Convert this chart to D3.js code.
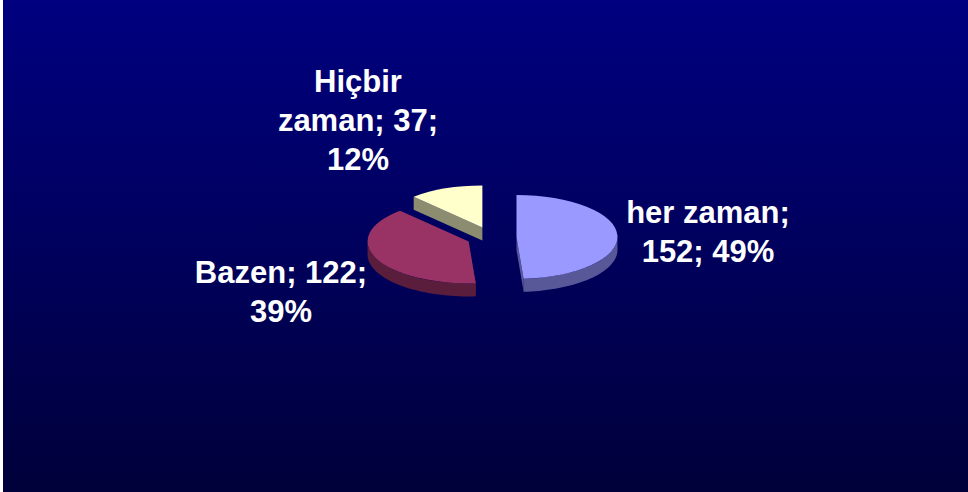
<!DOCTYPE html>
<html>
<head>
<meta charset="utf-8">
<script src="https://cdn.jsdelivr.net/npm/d3@7"></script>
<style>
  body { margin: 0; background: #fff; }
  #chart { width: 968px; height: 492px; }
</style>
</head>
<body>
<div id="chart"></div>
<script>
// data
const categories = ["her zaman", "Bazen", "Hiçbir zaman"];
const counts = [152, 122, 37];
// how many words go on each line of a label
const labelWrap = [[2, 2], [2, 1], [1, 2, 1]];

const topColors = ["#9999ff", "#993366", "#ffffcc"];
const sideColors = ["#585898", "#5a1e3c", "#8c8c70"];

const width = 968, height = 492;

const svg = d3.select("#chart")
  .append("svg")
  .attr("width", width)
  .attr("height", height);

// background gradient
const defs = svg.append("defs");
const grad = defs.append("linearGradient")
  .attr("id", "bg")
  .attr("x1", 0).attr("y1", 0).attr("x2", 0).attr("y2", 1);
grad.append("stop").attr("offset", "0%").attr("stop-color", "#000080");
grad.append("stop").attr("offset", "100%").attr("stop-color", "#00003a");

svg.append("rect")
  .attr("x", 3).attr("y", 0)
  .attr("width", width - 3).attr("height", height)
  .attr("fill", "url(#bg)");

// pie geometry
const cx0 = 491.5, cy0 = 237.3;
const rx = 101, ry = 42;
const k = ry / rx;
const depth = 13;
const explode = 25;

const total = d3.sum(counts);
const pct = d3.format(".0%");

const pie = d3.pie().sort(null).value(d => d)(counts);

const slices = pie.map((p, i) => {
  const mid = (p.startAngle + p.endAngle) / 2;
  return {
    i: i,
    a0: p.startAngle,
    a1: p.endAngle,
    cx: cx0 + explode * Math.sin(mid),
    cy: cy0 - explode * Math.cos(mid) * k
  };
});

function pt(s, a, r, z) {
  return [s.cx + r * Math.sin(a), s.cy - r * Math.cos(a) * k + z];
}

const line = d3.line();
const arc = d3.arc().innerRadius(0).outerRadius(rx);

// back slices first
const order = slices.slice().sort((a, b) => a.cy - b.cy);

const g = svg.append("g");

order.forEach(s => {
  const sg = g.append("g");
  const faces = [];
  // cut face at start angle
  faces.push({ a: s.a0, front: Math.sin(s.a0) < 0 });
  // cut face at end angle
  faces.push({ a: s.a1, front: Math.sin(s.a1) > 0 });
  faces.sort((a, b) => a.front - b.front);

  faces.forEach(f => {
    const c = pt(s, 0, 0, 0), r = pt(s, f.a, rx, 0);
    sg.append("path")
      .attr("d", line([c, r, [r[0], r[1] + depth], [c[0], c[1] + depth]]) + "Z")
      .attr("fill", sideColors[s.i]);
  });

  // outer wall (front half only)
  const w0 = Math.max(s.a0, Math.PI / 2), w1 = Math.min(s.a1, Math.PI * 1.5);
  if (w1 > w0) {
    const steps = d3.range(0, 41).map(t => w0 + (w1 - w0) * t / 40);
    const topPts = steps.map(a => pt(s, a, rx, 0));
    const botPts = steps.slice().reverse().map(a => pt(s, a, rx, depth));
    sg.append("path")
      .attr("d", line(topPts.concat(botPts)) + "Z")
      .attr("fill", sideColors[s.i]);
  }

  // top face
  sg.append("path")
    .attr("transform", `translate(${s.cx},${s.cy}) scale(1,${k})`)
    .attr("d", arc({ startAngle: s.a0, endAngle: s.a1 }))
    .attr("fill", topColors[s.i]);
});

// labels
const labelPos = [[708, 223], [281, 283], [358, 92]];
const lineGap = 39;

categories.forEach((cat, i) => {
  const words = `${cat}; ${counts[i]}; ${pct(counts[i] / total)}`.split(" ");
  let n = 0;
  const lines = labelWrap[i].map(c => {
    const l = words.slice(n, n + c).join(" ");
    n += c;
    return l;
  });
  const t = svg.append("text")
    .attr("text-anchor", "middle")
    .attr("font-family", "'Liberation Sans', Arial, sans-serif")
    .attr("font-weight", "bold")
    .attr("font-size", 31)
    .attr("fill", "#fff");
  lines.forEach((l, j) => {
    t.append("tspan")
      .attr("x", labelPos[i][0])
      .attr("y", labelPos[i][1] + j * lineGap)
      .text(l);
  });
});
</script>
</body>
</html>
